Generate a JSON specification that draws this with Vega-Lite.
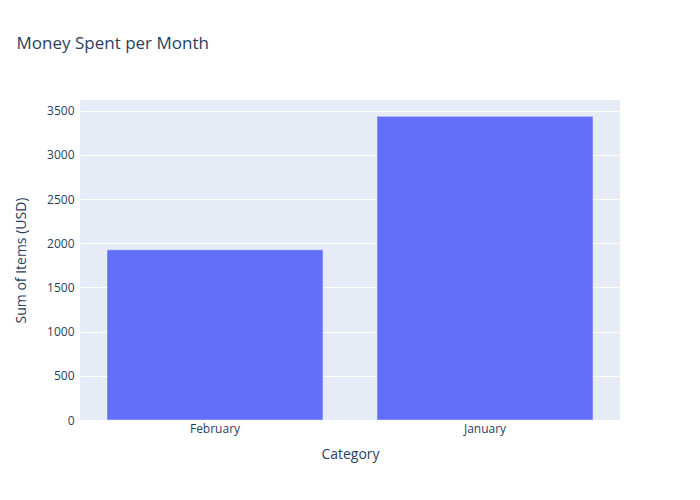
{
  "$schema": "https://vega.github.io/schema/vega-lite/v6.json",
  "width": 540,
  "height": 320,
  "autosize": "none",
  "padding": {"left": 80, "top": 100, "right": 80, "bottom": 80},
  "background": "white",
  "title": {
    "text": "Money Spent per Month",
    "anchor": "start",
    "dx": 2,
    "offset": 47,
    "fontSize": 17,
    "fontWeight": "normal",
    "color": "#2a3f5f",
    "font": "Open Sans"
  },
  "data": {
    "values": [
      {"Category": "February", "Sum": 1925},
      {"Category": "January", "Sum": 3435}
    ]
  },
  "mark": {"type": "bar", "color": "#636efa", "stroke": "#e5ecf6", "strokeWidth": 0.5},
  "encoding": {
    "x": {
      "field": "Category",
      "type": "nominal",
      "sort": null,
      "title": "Category",
      "scale": {"paddingInner": 0.2, "paddingOuter": 0.1},
      "axis": {"labelAngle": 0, "domain": false, "ticks": false, "labelPadding": 3, "titlePadding": 13}
    },
    "y": {
      "field": "Sum",
      "type": "quantitative",
      "title": "Sum of Items (USD)",
      "scale": {"domain": [0, 3620], "nice": false},
      "axis": {"values": [0, 500, 1000, 1500, 2000, 2500, 3000, 3500], "format": "d", "domain": false, "ticks": false, "labelPadding": 6, "titlePadding": 18, "gridColor": "white", "gridWidth": 1}
    }
  },
  "config": {
    "font": "Open Sans",
    "view": {"fill": "#e5ecf6", "stroke": null},
    "axis": {"labelColor": "#2a3f5f", "titleColor": "#2a3f5f", "labelFontSize": 12, "titleFontSize": 14, "titleFontWeight": "normal"}
  }
}
